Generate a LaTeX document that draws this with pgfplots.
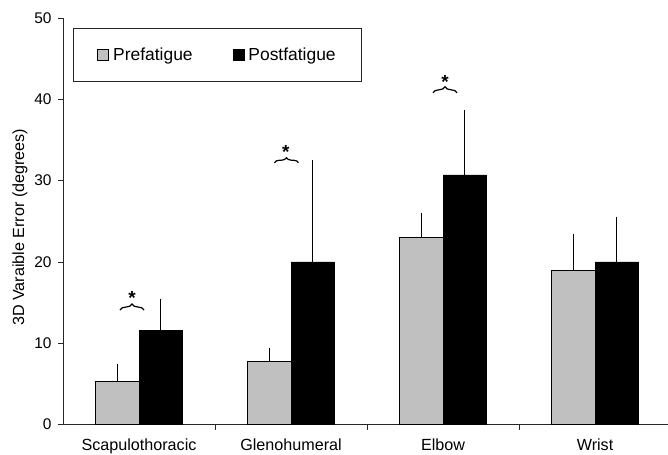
\documentclass[border=0pt]{standalone}
\usepackage{fontspec}
\setmainfont{Liberation Sans}
\usepackage{pgfplots}
\pgfplotsset{compat=1.18}
\usetikzlibrary{decorations.pathreplacing}
\definecolor{pregray}{RGB}{192,192,192}
\begin{document}
\begin{tikzpicture}
\useasboundingbox (-63bp,-30.5bp) rectangle (605bp,424.5bp);
\begin{axis}[
  scale only axis, width=605bp, height=406.5bp,
  xmin=-0.5, xmax=3.48, ymin=0, ymax=50,
  clip=false,
  axis x line=bottom, axis y line=left,
  axis line style={-, line width=0.8bp, black!85},
  ytick={0,10,...,50},
  xtick={0.5,1.5,2.5}, xticklabels={},
  extra x ticks={0,1,2,3},
  extra x tick labels={Scapulothoracic,Glenohumeral,Elbow,Wrist},
  extra x tick style={major tick length=0pt, xticklabel style={yshift=-11bp, font=\fontsize{16.2}{19}\selectfont}},
  tick align=outside, major tick length=5bp,
  tick style={line width=0.8bp, black!85},
  /pgf/number format/assume math mode=true,
  tick label style={font=\fontsize{15.5}{18}\selectfont},
  yticklabel style={xshift=-3bp},
  ylabel={3D Varaible Error (degrees)},
  ylabel style={at={(axis description cs:-0.0711,0.485)}, anchor=center, font=\fontsize{16.2}{19}\selectfont},
  ybar, bar width=0.286,
  legend columns=2,
  legend cell align=left,
  legend style={at={(axis description cs:0.01653,0.9754)}, anchor=north west,
    draw=black!85, line width=0.8bp, font=\fontsize{17.5}{20}\selectfont,
    inner xsep=24bp, inner ysep=17.5bp,
    /tikz/every even column/.append style={column sep=38bp},
    /tikz/every odd column/.append style={column sep=2bp}},
]
\addplot[fill=pregray, draw=black, line width=0.8bp, bar shift=0pt,
  legend image code/.code={\draw[fill=pregray, draw=black, line width=0.8bp] (0bp,-5.5bp) rectangle (11bp,5.5bp);},
  error bars/.cd, y dir=plus, y explicit,
  error bar style={line width=0.8bp, black},
  error mark options={mark size=2.2bp, line width=0.8bp, black}]
  coordinates {(-0.143,5.35) +- (0,1.85) (0.857,7.7) +- (0,1.5) (1.857,23.0) +- (0,2.8) (2.857,19.0) +- (0,4.2)};
\addlegendentry{Prefatigue}
\addplot[fill=black, draw=black, line width=0.8bp, bar shift=0pt,
  legend image code/.code={\draw[fill=black, draw=black, line width=0.8bp] (0bp,-5.5bp) rectangle (11bp,5.5bp);},
  error bars/.cd, y dir=plus, y explicit,
  error bar style={line width=0.8bp, black},
  error mark options={mark size=2.2bp, line width=0.8bp, black}]
  coordinates {(0.143,11.6) +- (0,3.6) (1.143,20.0) +- (0,12.3) (2.143,30.7) +- (0,7.7) (3.143,20.0) +- (0,5.2)};
\addlegendentry{Postfatigue}
\draw[decorate, decoration={brace, amplitude=6bp}, line width=1.2bp] (axis cs:-0.125,14.08) -- (axis cs:0.033,14.08);
\node[font=\fontsize{19}{21}\selectfont\bfseries, anchor=center, yshift=-3.5bp] at (axis cs:-0.046,16.0) {*};
\draw[decorate, decoration={brace, amplitude=5bp}, line width=1.2bp] (axis cs:0.891,32.2) -- (axis cs:1.049,32.2);
\node[font=\fontsize{19}{21}\selectfont\bfseries, anchor=center, yshift=-3.5bp] at (axis cs:0.965,33.9) {*};
\draw[decorate, decoration={brace, amplitude=6bp}, line width=1.2bp] (axis cs:1.934,40.8) -- (axis cs:2.092,40.8);
\node[font=\fontsize{19}{21}\selectfont\bfseries, anchor=center, yshift=-3.5bp] at (axis cs:2.013,42.6) {*};
\end{axis}
\end{tikzpicture}
\end{document}
